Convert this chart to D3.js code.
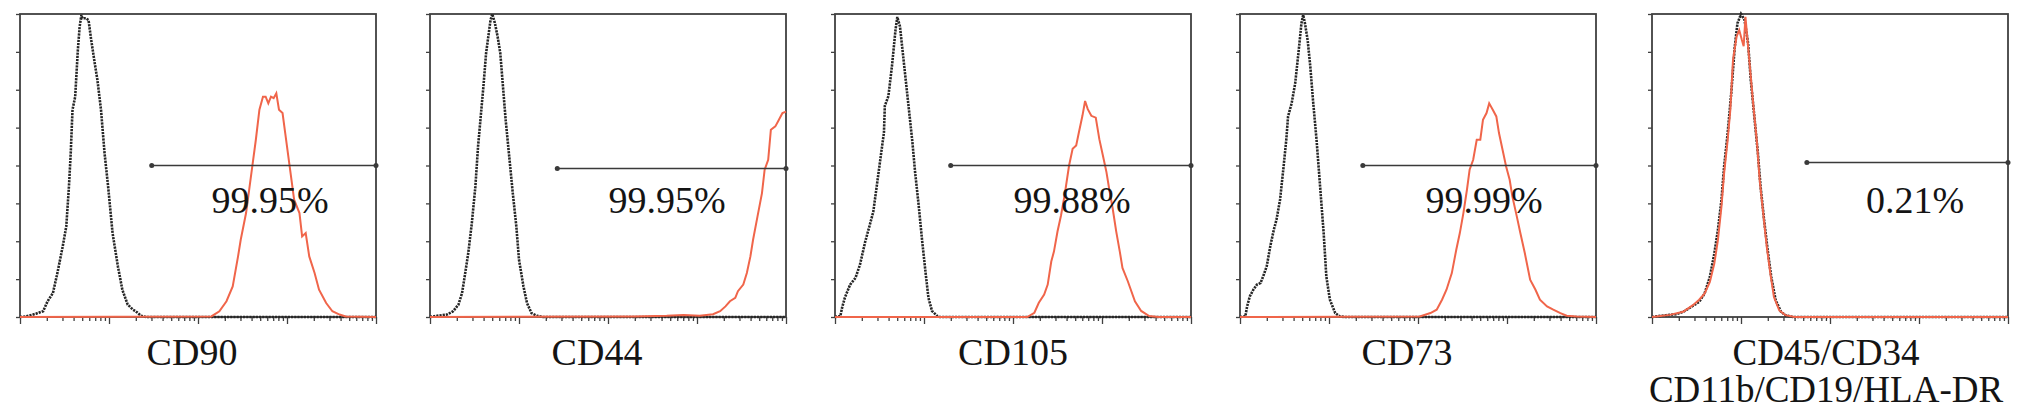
<!DOCTYPE html>
<html>
<head>
<meta charset="utf-8">
<title>Flow cytometry histograms</title>
<script src="https://cdn.jsdelivr.net/npm/d3@7"></script>
<style>
    html, body { margin: 0; padding: 0; background: #fff; }
    svg { display: block; }
</style>
</head>
<body>
<div id="chart"></div>
<script>
/*
 * Data (x = log10 fluorescence, y = % of max count)
 * */

var markers = [['CD90'], ['CD44'], ['CD105'], ['CD73'], ['CD45/CD34', 'CD11b/CD19/HLA-DR']];
var percentages = ['99.95%', '99.95%', '99.88%', '99.99%', '0.21%'];
var gateStart = [1.48, 1.43, 1.30, 1.38, 1.74];
var gateLevel = [50, 49, 50, 50, 51];

var cd90Iso = [[0, 0], [0.07, 0.2], [0.18, 1.1], [0.26, 1.9], [0.31, 5.2], [0.37, 7.9], [0.42, 14.5], [0.48, 23.3], [0.52, 29.9], [0.55, 43.1], [0.57, 54.1], [0.59, 68.4], [0.62, 72.7], [0.65, 88.1], [0.67, 95.8], [0.69, 99.7], [0.70, 98.6], [0.74, 98.6], [0.77, 98], [0.80, 91.4], [0.84, 83.7], [0.87, 78.2], [0.91, 68.4], [0.95, 54.1], [0.99, 43.1], [1.04, 27.7], [1.10, 16.7], [1.15, 9], [1.21, 4.1], [1.27, 2.4], [1.30, 1.9], [1.36, 0.4], [1.42, 0], [4, 0]];
var cd90Stain = [[0, 0], [2.15, 0.2], [2.24, 1.9], [2.32, 5.2], [2.39, 10.1], [2.45, 20], [2.48, 25.5], [2.54, 34.3], [2.58, 43.1], [2.61, 49.7], [2.65, 58.5], [2.69, 68.4], [2.73, 72.7], [2.76, 72.7], [2.79, 70.5], [2.82, 72.7], [2.85, 72.2], [2.88, 73.8], [2.91, 68.4], [2.95, 67.3], [2.98, 60.7], [3.03, 49.7], [3.08, 38.7], [3.14, 34.3], [3.17, 26.6], [3.21, 27.7], [3.25, 20], [3.31, 14.5], [3.36, 9], [3.44, 4.6], [3.51, 1.9], [3.59, 0.8], [3.66, 0.2], [4, 0]];

var cd44Iso = [[0, 0], [0.08, 0.4], [0.19, 0.8], [0.26, 1.9], [0.32, 4.1], [0.36, 7.9], [0.39, 13.4], [0.43, 21.1], [0.47, 31], [0.51, 43.1], [0.54, 56.3], [0.57, 66.2], [0.60, 76], [0.63, 87], [0.66, 93.6], [0.68, 98], [0.70, 100], [0.73, 96.9], [0.76, 92.5], [0.79, 87], [0.82, 76], [0.85, 65.1], [0.89, 53], [0.93, 40.9], [0.97, 29.9], [1.00, 18.9], [1.05, 10.1], [1.09, 4.6], [1.14, 1.3], [1.20, 0.4], [1.27, 0], [4, 0]];
var cd44Stain = [[0, 0], [2.29, 0.2], [2.66, 0.4], [2.85, 0.7], [3.03, 0.4], [3.18, 0.9], [3.26, 1.9], [3.32, 3.5], [3.37, 5.2], [3.43, 6.3], [3.46, 8.5], [3.52, 10.7], [3.56, 14.5], [3.60, 20], [3.63, 25.5], [3.68, 33.2], [3.73, 40.9], [3.76, 48.6], [3.80, 51.9], [3.83, 61.8], [3.88, 62.9], [3.91, 64.5], [3.96, 67.3], [4, 67.8]];

var cd105Iso = [[0, 0], [0.06, 0.3], [0.08, 3.1], [0.11, 6.3], [0.17, 10.7], [0.23, 12.9], [0.28, 17.2], [0.34, 24.9], [0.40, 31.4], [0.43, 34.7], [0.47, 43.4], [0.51, 52.2], [0.55, 60.9], [0.56, 69.7], [0.60, 72.9], [0.64, 82.8], [0.68, 94.8], [0.70, 99], [0.73, 95.9], [0.75, 90.4], [0.79, 79.5], [0.83, 68.6], [0.87, 57.6], [0.90, 47.8], [0.94, 36.9], [0.98, 24.9], [1.02, 14], [1.05, 6.3], [1.09, 2], [1.15, 0.3], [1.18, 0], [4, 0]];
var cd105Stain = [[0, 0], [2.16, 0], [2.24, 1.4], [2.29, 4.7], [2.35, 7.4], [2.39, 10.7], [2.43, 18.3], [2.46, 21.6], [2.50, 28.2], [2.54, 33.6], [2.58, 40.2], [2.63, 50], [2.67, 55.5], [2.71, 56.6], [2.74, 60.9], [2.78, 66.4], [2.81, 71.3], [2.84, 68.6], [2.88, 66.4], [2.93, 65.8], [2.97, 58.7], [3.01, 53.3], [3.05, 47.8], [3.08, 42.4], [3.12, 35.8], [3.16, 28.2], [3.20, 21.6], [3.23, 16.2], [3.29, 11.8], [3.37, 5.2], [3.44, 2], [3.53, 0.3], [3.63, 0], [4, 0]];

var cd73Iso = [[0, 0], [0.06, 0.2], [0.08, 3.5], [0.11, 6.8], [0.15, 9], [0.19, 10.7], [0.23, 11.2], [0.26, 13.4], [0.30, 16.7], [0.34, 23.3], [0.38, 28.8], [0.41, 32.1], [0.45, 38.7], [0.49, 49.7], [0.52, 58.5], [0.54, 66.2], [0.58, 70.5], [0.62, 77.1], [0.66, 88.1], [0.69, 96.9], [0.71, 99.7], [0.73, 96.9], [0.76, 91.4], [0.79, 82.6], [0.82, 71.6], [0.86, 58.5], [0.90, 43.1], [0.94, 27.7], [0.97, 13.4], [1.01, 5.7], [1.07, 1.3], [1.12, 0.2], [1.18, 0], [4, 0]];
var cd73Stain = [[0, 0], [2.02, 0.2], [2.14, 1.3], [2.21, 2.4], [2.27, 5.7], [2.32, 9], [2.38, 14.5], [2.43, 22.2], [2.47, 27.7], [2.51, 34.3], [2.55, 42], [2.58, 48.6], [2.62, 51.9], [2.66, 58.5], [2.70, 58.5], [2.73, 65.1], [2.77, 67.3], [2.80, 70.5], [2.84, 68.4], [2.88, 66.2], [2.91, 60.7], [2.95, 55.2], [2.99, 49.7], [3.03, 45.3], [3.06, 39.8], [3.11, 33.2], [3.15, 27.7], [3.20, 21.1], [3.26, 12.3], [3.32, 9], [3.37, 5.7], [3.45, 3.5], [3.52, 2.4], [3.60, 1.3], [3.67, 0.4], [3.78, 0.2], [4, 0]];

var negIso = [[0, 0], [0.05, 0.2], [0.16, 0.6], [0.27, 0.9], [0.35, 1.7], [0.44, 3.3], [0.53, 5], [0.59, 7.7], [0.65, 13.2], [0.70, 20.9], [0.74, 28.6], [0.78, 38.5], [0.81, 49.6], [0.85, 60.6], [0.89, 73.8], [0.93, 89.2], [0.96, 96.9], [1.00, 100], [1.04, 98], [1.08, 90.3], [1.11, 78.2], [1.15, 66.1], [1.19, 54], [1.22, 43], [1.26, 31.9], [1.30, 22], [1.34, 13.2], [1.39, 5.5], [1.45, 1.7], [1.50, 0.6], [1.58, 0], [4, 0]];
var negStain = [[0, 0], [0.05, 0.2], [0.20, 0.7], [0.35, 1.7], [0.46, 3.9], [0.53, 5.7], [0.59, 7.7], [0.65, 11.6], [0.70, 17.6], [0.74, 25.3], [0.78, 36.3], [0.81, 47.4], [0.85, 58.4], [0.88, 68.3], [0.91, 84.8], [0.95, 92.5], [0.98, 94.7], [1.01, 91.4], [1.03, 89.4], [1.05, 99.1], [1.06, 95.8], [1.10, 82.6], [1.14, 69.4], [1.18, 57.3], [1.21, 45.2], [1.25, 34.1], [1.29, 23.1], [1.33, 14.3], [1.37, 6.6], [1.43, 2.2], [1.50, 0.6], [1.60, 0], [4, 0]];

var isotypes = [cd90Iso, cd44Iso, cd105Iso, cd73Iso, negIso];
var stains = [cd90Stain, cd44Stain, cd105Stain, cd73Stain, negStain];

/*
 * Layout
 * */

var svgWidth = 2031,
    svgHeight = 412,
    panelLeft = [20, 430, 835, 1240, 1652],
    panelTop = 14,
    panelWidth = 356,
    panelHeight = 303,
    labelShift = [-6, -11, 0, -11, -4],
    pctOffset = [250, 237, 237, 244, 263],

    serif = '"Liberation Serif", "Times New Roman", Times, serif',
    frameColour = '#404040',
    isoColour = '#262626',
    stainColour = '#f0654a',
    fontSize = 38;

var svg = d3.select('#chart')
    .append('svg')
    .attr('width', svgWidth)
    .attr('height', svgHeight);

svg.append('rect')
    .attr('width', svgWidth)
    .attr('height', svgHeight)
    .attr('fill', '#fff');

var x = d3.scaleLog().domain([1, 1e4]).range([0, panelWidth]);
var y = d3.scaleLinear().domain([0, 100]).range([panelHeight, 0]);

var majorTicks = [1, 10, 100, 1000, 10000];
var minorTicks = [];
majorTicks.slice(0, 4).forEach(function (d) {
    for (var k = 2; k <= 9; k++) minorTicks.push(d * k);
});

var line = d3.line()
    .x(function (d) { return x(Math.pow(10, d[0])); })
    .y(function (d) { return y(d[1]); });

/*
 * Panel
 * */

function drawPanel(i) {
    var g = svg.append('g')
        .attr('transform', 'translate(' + panelLeft[i] + ',' + panelTop + ')');

    // minor and major ticks on the log axis
    g.append('g')
        .attr('transform', 'translate(0,' + panelHeight + ')')
        .call(d3.axisBottom(x).tickValues(minorTicks).tickSize(4).tickFormat(''));
    g.append('g')
        .attr('transform', 'translate(0,' + panelHeight + ')')
        .call(d3.axisBottom(x).tickValues(majorTicks).tickSize(7).tickFormat(''));

    g.append('g')
        .call(d3.axisLeft(y).tickValues(d3.range(0, 101, 12.5)).tickSize(4).tickFormat(''));

    g.selectAll('.domain').remove();
    g.selectAll('.tick line')
        .attr('stroke', frameColour)
        .attr('stroke-width', 1.3);

    g.append('rect')
        .attr('width', panelWidth)
        .attr('height', panelHeight)
        .attr('fill', 'none')
        .attr('stroke', frameColour)
        .attr('stroke-width', 1.8);

    // isotype control (dotted) then stained sample
    g.append('path')
        .datum(isotypes[i])
        .attr('d', line)
        .attr('fill', 'none')
        .attr('stroke', isoColour)
        .attr('stroke-width', 2.6)
        .attr('stroke-dasharray', '2.2,1');

    g.append('path')
        .datum(stains[i])
        .attr('d', line)
        .attr('fill', 'none')
        .attr('stroke', stainColour)
        .attr('stroke-width', 2);

    // gate
    var gx = x(Math.pow(10, gateStart[i])),
        gy = y(gateLevel[i]);

    g.append('line')
        .attr('x1', gx)
        .attr('x2', panelWidth)
        .attr('y1', gy)
        .attr('y2', gy)
        .attr('stroke', '#3a3a3a')
        .attr('stroke-width', 1.6);

    g.selectAll('.gate-end')
        .data([gx, panelWidth])
        .enter()
        .append('circle')
        .attr('cx', function (d) { return d; })
        .attr('cy', gy)
        .attr('r', 2.5)
        .attr('fill', '#3a3a3a');

    g.append('text')
        .attr('x', pctOffset[i])
        .attr('y', 199)
        .attr('text-anchor', 'middle')
        .attr('font-family', serif)
        .attr('font-size', fontSize)
        .attr('fill', '#141414')
        .text(percentages[i]);

    var label = g.append('text')
        .attr('text-anchor', 'middle')
        .attr('font-family', serif)
        .attr('font-size', markers[i].length > 1 ? 37 : fontSize)
        .attr('fill', '#141414');

    label.selectAll('tspan')
        .data(markers[i])
        .enter()
        .append('tspan')
        .attr('x', panelWidth / 2 + labelShift[i])
        .attr('y', function (d, j) { return 351 + j * 37; })
        .text(function (d) { return d; });
}

markers.forEach(function (m, i) {
    drawPanel(i);
});
</script>
</body>
</html>
